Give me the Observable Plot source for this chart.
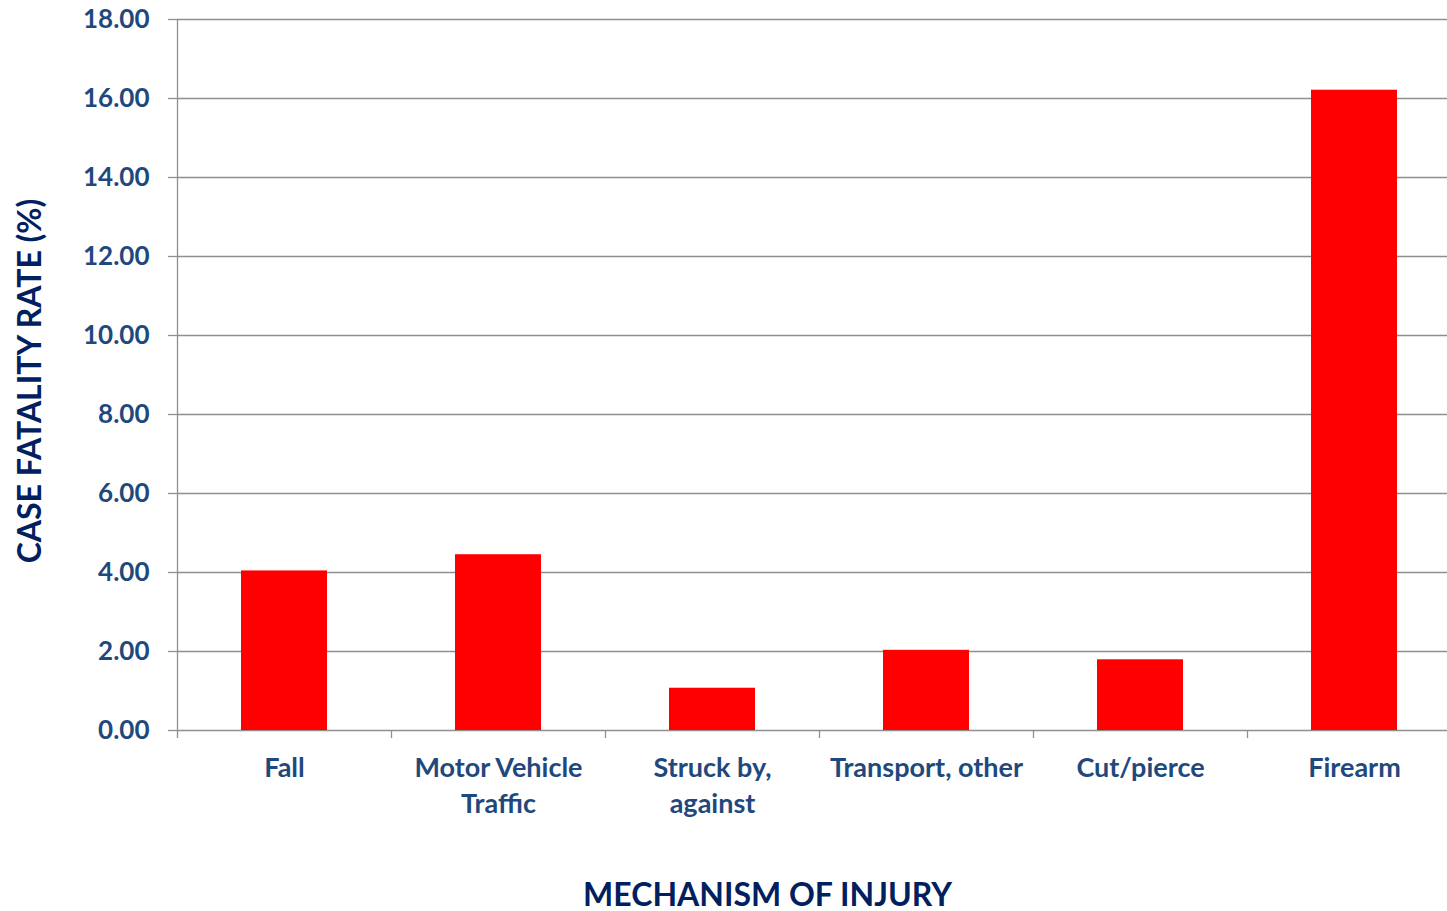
<!DOCTYPE html>
<html>
<head>
<meta charset="utf-8">
<script src="https://cdn.jsdelivr.net/npm/d3@7"></script>
<script src="https://cdn.jsdelivr.net/npm/@observablehq/plot@0.6"></script>
<style>
  html, body { margin: 0; padding: 0; background: #fff; overflow: hidden; }
  #chart svg { display: block; }
</style>
</head>
<body>
<div id="chart"></div>
<script>
const categories = ["Fall", "Motor Vehicle Traffic", "Struck by, against", "Transport, other", "Cut/pierce", "Firearm"];
const tickLabels = ["Fall", "Motor Vehicle\nTraffic", "Struck by,\nagainst", "Transport, other", "Cut/pierce", "Firearm"];
const rates = [4.04, 4.45, 1.07, 2.03, 1.79, 16.21];
const yTicks = [0, 2, 4, 6, 8, 10, 12, 14, 16, 18];
const yTitle = "CASE FATALITY RATE (%)";
const xTitle = "MECHANISM OF INJURY";

const data = categories.map((c, i) => ({category: c, value: rates[i]}));
const labelOf = new Map(categories.map((c, i) => [c, tickLabels[i]]));

const W = 1447, H = 911;
const mLeft = 177, mTop = 19, mBottom = 181;
const step = 214; // band step in px
const tickColor = "#1F497D";
const titleColor = "#002060";
const gridColor = "#8f8f8f";

const chart = Plot.plot({
  width: W,
  height: H,
  marginLeft: mLeft,
  marginRight: 0,
  marginTop: mTop,
  marginBottom: mBottom,
  style: {fontFamily: "Lato, 'Open Sans', sans-serif", background: "#fff"},
  x: {type: "band", domain: categories, range: [mLeft, mLeft + step * categories.length], paddingInner: 0.6, paddingOuter: 0.3},
  y: {domain: [0, 18]},
  marks: [
    Plot.gridY(yTicks, {stroke: gridColor, strokeOpacity: 1, strokeWidth: 1.3}),
    Plot.ruleX([categories[0]], {dx: -step / 2, stroke: gridColor, strokeWidth: 1.3}),
    Plot.barY(data, {x: "category", y: "value", fill: "#ff0000"}),
    Plot.axisY({ticks: yTicks, tickSize: 9, tickPadding: 19, tickFormat: d3.format(".2f"), stroke: gridColor, strokeWidth: 1.3, fill: tickColor, fontSize: 26, fontWeight: "bold", label: null}),
    Plot.axisX({ticks: categories, tickSize: 8, dx: -step / 2, stroke: gridColor, strokeWidth: 1.3, text: null, label: null}),
    Plot.axisX({ticks: categories, tickSize: 0, tickPadding: 22, tickFormat: d => labelOf.get(d), fill: tickColor, fontSize: 27, fontWeight: "bold", lineHeight: 1.3, label: null}),
    Plot.text([yTitle], {frameAnchor: "left", rotate: -90, dx: -147, dy: 6, fill: titleColor, fontSize: 32, fontWeight: "bold", textAnchor: "middle"}),
    Plot.text([xTitle], {frameAnchor: "bottom", dx: -45, dy: 175, fill: titleColor, fontSize: 32, fontWeight: "bold", textAnchor: "middle"})
  ]
});
document.getElementById("chart").appendChild(chart);
</script>
</body>
</html>
